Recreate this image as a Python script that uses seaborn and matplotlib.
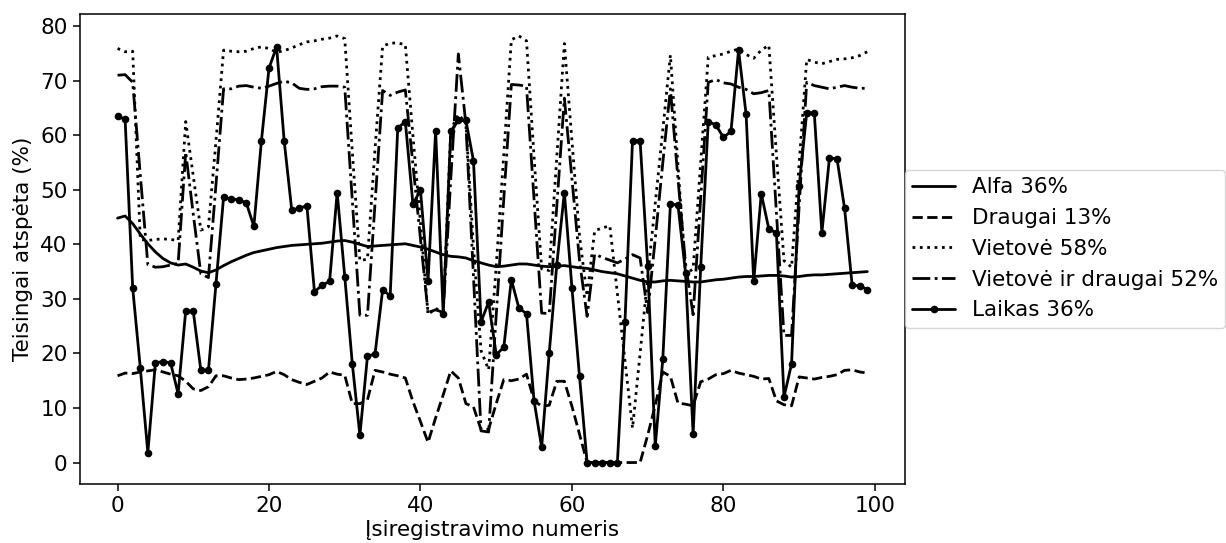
import numpy as np
import pandas as pd
import matplotlib
matplotlib.use("Agg")
import matplotlib.pyplot as plt
import seaborn as sns

x_values = list(range(100))

alfa = [44.8, 45.2, 43.8, 41.9, 40.1, 38.6, 37.4, 36.6, 36.2, 36.4,
        35.8, 35.1, 34.8, 35.3, 36.1, 36.8, 37.4, 38.0, 38.5, 38.8,
        39.1, 39.4, 39.6, 39.8, 39.9, 40.0, 40.1, 40.2, 40.4, 40.6,
        40.7, 40.4, 40.0, 39.6, 39.7, 39.8, 39.9, 40.0, 40.1, 39.8,
        39.5, 39.1, 38.6, 38.1, 37.8, 37.7, 37.5, 37.0, 36.6, 36.2,
        35.9, 36.0, 36.2, 36.4, 36.4, 36.2, 36.0, 35.9, 36.0, 36.1,
        35.9, 35.7, 35.6, 35.3, 35.0, 34.8, 34.6, 34.2, 33.8, 33.4,
        33.1, 33.1, 33.3, 33.4, 33.3, 33.2, 33.1, 33.1, 33.3, 33.5,
        33.6, 33.8, 34.0, 34.1, 34.1, 34.2, 34.3, 34.3, 34.2, 34.0,
        34.1, 34.3, 34.4, 34.4, 34.5, 34.6, 34.7, 34.8, 34.9, 35.0]

draugai = [15.9, 16.4, 16.3, 16.6, 16.8, 17.0, 16.6, 16.2, 15.9, 14.9,
           13.5, 13.2, 13.9, 15.9, 15.9, 15.5, 15.2, 15.3, 15.5, 15.8,
           16.1, 16.7, 16.1, 15.2, 14.7, 14.3, 14.9, 15.5, 16.6, 16.2,
           16.0, 10.8, 10.8, 11.5, 16.9, 16.6, 16.2, 15.9, 15.5, 11.2,
           7.5, 3.7, 8.2, 12.4, 16.8, 15.5, 10.8, 10.2, 6.0, 6.1,
           10.8, 15.2, 15.0, 15.3, 16.2, 11.4, 10.3, 10.5, 14.9, 14.9,
           10.3, 5.2, 0.0, 0.0, 0.0, 0.0, 0.0, 0.0, 0.0, 0.0,
           5.0, 10.5, 16.6, 15.8, 10.9, 10.7, 10.4, 14.8, 15.3, 16.1,
           16.3, 16.9, 16.4, 16.1, 15.8, 15.3, 15.4, 11.3, 10.6, 10.4,
           15.7, 15.5, 15.3, 15.6, 15.8, 16.1, 16.9, 17.0, 16.6, 16.4]

vietove = [75.9, 75.3, 75.4, 40.9, 40.7, 40.9, 41.0, 40.9, 40.7, 62.5,
           52.5, 42.6, 43.2, 59.0, 75.6, 75.4, 75.3, 75.4, 75.9, 76.2,
           75.9, 75.2, 75.5, 76.0, 76.6, 77.1, 77.3, 77.6, 77.8, 78.2,
           77.7, 57.0, 37.0, 37.3, 57.5, 76.3, 76.9, 76.9, 76.6, 60.0,
           44.0, 27.1, 28.3, 27.3, 61.0, 63.8, 62.3, 39.5, 20.5, 17.0,
           36.0, 56.5, 77.5, 78.2, 77.3, 56.0, 35.5, 35.2, 56.0, 76.8,
           59.0, 41.5, 30.5, 42.5, 43.0, 43.4, 31.0, 18.7, 6.3, 20.0,
           34.0, 47.5, 61.0, 74.7, 54.5, 34.5, 35.5, 55.0, 74.3, 74.6,
           74.9, 75.4, 75.8, 74.8, 74.1, 75.6, 76.5, 56.5, 37.0, 35.8,
           54.8, 73.9, 73.4, 73.1, 73.5, 73.9, 74.0, 74.2, 74.6, 75.3]

vietove_draugai = [71.0, 71.1, 69.7, 52.8, 36.3, 35.8, 35.9, 36.2, 36.5, 56.9,
                   45.5, 34.6, 33.9, 51.0, 68.5, 68.5, 69.0, 69.1, 68.8, 68.6,
                   69.0, 69.5, 69.9, 69.6, 68.6, 68.4, 68.5, 68.9, 69.0, 69.0,
                   68.8, 48.0, 27.0, 27.0, 47.5, 68.2, 67.3, 67.9, 68.3, 54.7,
                   41.0, 27.5, 28.0, 27.5, 52.0, 74.9, 62.0, 34.0, 5.8, 5.6,
                   27.0, 48.3, 69.3, 69.2, 69.0, 48.2, 27.4, 27.3, 47.0, 66.8,
                   52.0, 37.0, 26.8, 38.2, 37.6, 37.1, 36.6, 37.3, 38.1, 37.5,
                   27.5, 41.0, 55.0, 68.5, 52.0, 36.5, 27.1, 48.5, 69.7, 70.2,
                   69.6, 69.4, 68.8, 68.4, 67.6, 67.8, 68.2, 45.8, 23.3, 23.3,
                   47.0, 69.7, 69.1, 68.8, 68.5, 68.8, 69.1, 68.8, 68.6, 68.6]

laikas = [63.5, 62.9, 32.0, 17.4, 1.8, 18.3, 18.5, 18.3, 12.6, 27.8,
          27.7, 16.9, 16.9, 32.8, 48.6, 48.3, 48.2, 47.6, 43.3, 59.0,
          72.3, 76.2, 59.0, 46.3, 46.6, 47.1, 31.3, 32.5, 33.2, 49.5,
          34.1, 18.1, 5.0, 19.5, 19.9, 31.6, 30.6, 61.3, 62.5, 47.4,
          49.9, 33.3, 60.8, 27.3, 60.7, 62.7, 62.7, 55.3, 25.8, 29.4,
          19.8, 21.1, 33.5, 28.3, 27.3, 11.3, 2.8, 20.1, 36.3, 49.5,
          32.0, 15.8, 0.0, 0.0, 0.0, 0.0, 0.0, 25.8, 59.0, 59.0,
          36.0, 3.0, 19.0, 47.4, 47.2, 34.8, 5.2, 35.8, 62.5, 61.9,
          59.6, 60.7, 75.6, 63.8, 33.2, 49.3, 42.8, 42.1, 12.0, 18.1,
          50.7, 64.1, 64.1, 42.1, 55.8, 55.7, 46.6, 32.5, 32.4, 31.7]

labels = ["Alfa 36%", "Draugai 13%", "Vietovė 58%", "Vietovė ir draugai 52%", "Laikas 36%"]
series = [alfa, draugai, vietove, vietove_draugai, laikas]
styles = ["-", "--", ":", "-.", "-"]
markers = [None, None, None, None, "o"]

x_ticks = [0, 20, 40, 60, 80, 100]
y_ticks = [0, 10, 20, 30, 40, 50, 60, 70, 80]
x_label = "Įsiregistravimo numeris"
y_label = "Teisingai atspėta (%)"

FS = 15.5

sns.set_style("white")
plt.rcParams["font.family"] = ["DejaVu Sans"]
plt.rcParams["font.size"] = FS

fig = plt.figure(figsize=(12.26, 5.43), dpi=100)
ax = fig.add_axes([0.0653, 0.109, 0.6727, 0.865])

for lab, vals, ls, mk in zip(labels, series, styles, markers):
    df = pd.DataFrame({"x": x_values, "y": vals})
    sns.lineplot(data=df, x="x", y="y", ax=ax, color="black", linestyle=ls,
                 linewidth=2.0, marker=mk, markersize=5.5, markeredgewidth=0,
                 label=lab, estimator=None, sort=False)

ax.set_xticks(x_ticks)
ax.set_yticks(y_ticks)
ax.set_xlim(-4.95, 103.95)
ax.set_ylim(-3.9, 82.2)
ax.set_xlabel(x_label, fontsize=FS, labelpad=3)
ax.set_ylabel(y_label, fontsize=FS, labelpad=5)
ax.tick_params(axis="both", which="major", labelsize=FS, length=5, width=1.1,
               direction="out", bottom=True, left=True, color="black",
               labelcolor="black", pad=4)
for sp in ax.spines.values():
    sp.set_color("black")
    sp.set_linewidth(1.1)

leg = ax.legend(loc="center left", bbox_to_anchor=(1.0, 0.5), fontsize=FS,
                frameon=True, borderaxespad=0.0, handlelength=2.0,
                borderpad=0.35, handletextpad=0.75)
leg.get_frame().set_edgecolor("#cccccc")
for t in leg.get_texts():
    t.set_color("black")
ax.xaxis.label.set_color("black")
ax.yaxis.label.set_color("black")

fig.savefig("out.png", dpi=100)
